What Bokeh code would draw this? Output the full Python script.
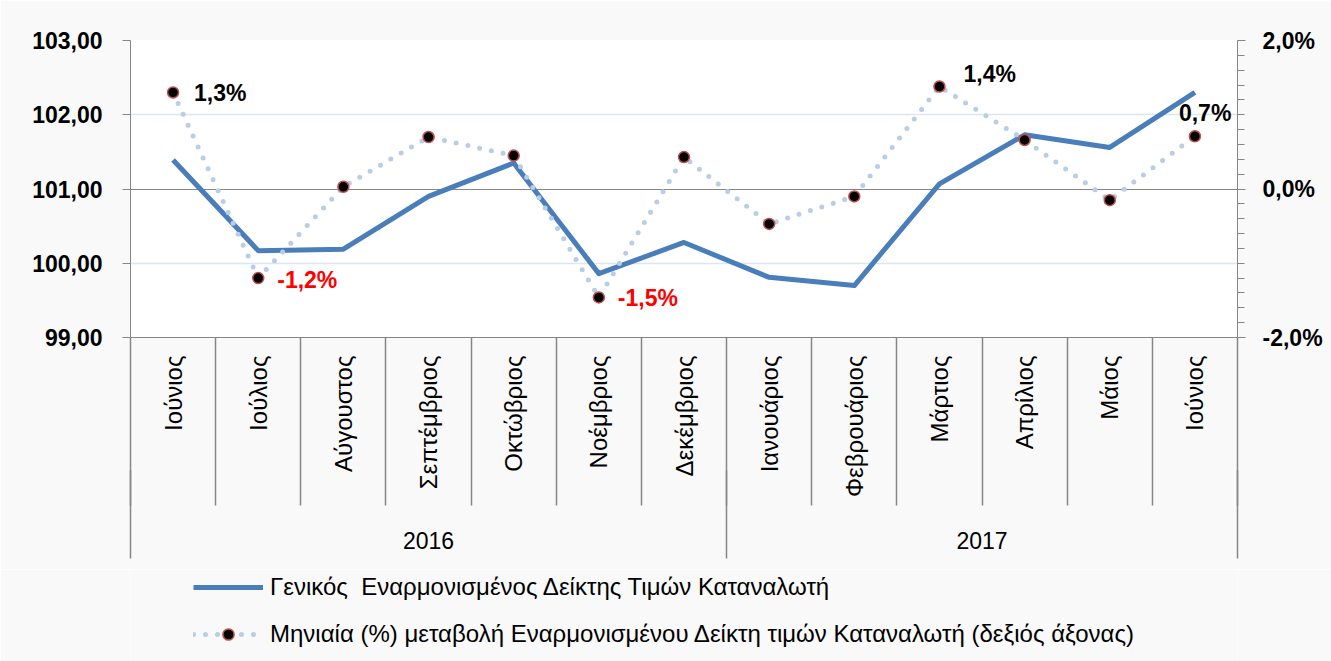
import math
from bokeh.plotting import figure
from bokeh.layouts import column
from bokeh.models import (Range1d, LinearAxis, FixedTicker, Grid, Legend, LegendItem,
                          ColumnDataSource)
from bokeh.core.properties import value
from bokeh.embed import file_html
from bokeh.resources import INLINE

# ---------------- data ----------------
months = ["Ιούνιος", "Ιούλιος", "Αύγουστος", "Σεπτέμβριος", "Οκτώβριος", "Νοέμβριος",
          "Δεκέμβριος", "Ιανουάριος", "Φεβρουάριος", "Μάρτιος", "Απρίλιος", "Μάιος", "Ιούνιος"]
years = ["2016", "2017"]
months_per_year = [7, 6]
hicp = [101.39, 100.17, 100.19, 100.90, 101.35, 99.86, 100.28, 99.81, 99.70, 101.07,
        101.73, 101.56, 102.30]
change_pct = [1.30, -1.20, 0.03, 0.70, 0.45, -1.46, 0.43, -0.47, -0.10, 1.38, 0.66, -0.15, 0.71]
labelled = [0, 1, 5, 9, 12]
left_ticks = [99, 100, 101, 102, 103]
right_ticks = [-2, 0, 2]
series_names = ["Γενικός  Εναρμονισμένος Δείκτης Τιμών Καταναλωτή",
                "Μηνιαία (%) μεταβολή Εναρμονισμένου Δείκτη τιμών Καταναλωτή (δεξιός άξονας)"]

# ---------------- styles ----------------
FONT = "Liberation Sans"
GRAY = "#868686"
BLUE = "#4a7ebb"
LIGHT = "#b9cde5"
BG = "#f9f9f9"
W = 1331

def fmt_idx(v):
    return f"{v:.2f}".replace(".", ",")

def fmt_pct(v):
    return f"{v:.1f}".replace(".", ",") + "%"

n = len(months)
xs = list(range(n))

p = figure(frame_width=1107, frame_height=297,
           min_border_left=130, min_border_right=94, min_border_top=40, min_border_bottom=232,
           x_range=Range1d(-0.5, n - 0.5), y_range=Range1d(left_ticks[0], left_ticks[-1]),
           output_backend="svg", toolbar_location=None, x_axis_location=None,
           y_axis_location=None)
p.extra_y_ranges = {"pct": Range1d(right_ticks[0], right_ticks[-1])}
p.background_fill_color = "white"
p.border_fill_color = BG
p.outline_line_color = None
p.xgrid.visible = False
p.ygrid.visible = False

# grid lines
p.add_layout(Grid(dimension=1, ticker=FixedTicker(ticks=[t for t in left_ticks if t % 2 == 0]),
                  grid_line_color="#dce6f2", grid_line_width=1.5))
p.add_layout(Grid(dimension=1, ticker=FixedTicker(ticks=[t for t in left_ticks[1:] if t % 2 == 1]),
                  grid_line_color=GRAY, grid_line_width=1))

# left axis
ly = LinearAxis(ticker=FixedTicker(ticks=left_ticks),
                major_label_overrides={t: fmt_idx(t) for t in left_ticks})
ly.axis_line_color = GRAY
ly.major_tick_line_color = GRAY
ly.major_tick_out = 8
ly.major_tick_in = 0
ly.minor_tick_line_color = None
ly.major_label_standoff = 20
ly.major_label_text_font = FONT
ly.major_label_text_font_style = "bold"
ly.major_label_text_font_size = "23px"
ly.major_label_text_color = "black"
p.add_layout(ly, "left")

# right axis
minor_r = [right_ticks[0] + 0.2 * i for i in range(21)]
ry = LinearAxis(y_range_name="pct", ticker=FixedTicker(ticks=right_ticks, minor_ticks=minor_r),
                major_label_overrides={t: fmt_pct(t) for t in right_ticks})
ry.axis_line_color = GRAY
ry.major_tick_line_color = GRAY
ry.minor_tick_line_color = GRAY
ry.major_tick_out = 8
ry.major_tick_in = 0
ry.minor_tick_out = 7
ry.minor_tick_in = 0
ry.major_label_standoff = 17
ry.major_label_text_font = FONT
ry.major_label_text_font_style = "bold"
ry.major_label_text_font_size = "23px"
ry.major_label_text_color = "black"
p.add_layout(ry, "right")

# month axis (labels + month dividers)
mx = LinearAxis(ticker=FixedTicker(ticks=xs, minor_ticks=[i - 0.5 for i in range(n + 1)]),
                major_label_overrides={i: m for i, m in enumerate(months)})
mx.axis_line_color = GRAY
mx.major_tick_line_color = None
mx.major_tick_out = 0
mx.major_tick_in = 0
mx.minor_tick_line_color = GRAY
mx.minor_tick_line_width = 1.5
mx.minor_tick_out = 168
mx.minor_tick_in = 0
mx.major_label_orientation = math.pi / 2
mx.major_label_standoff = -150
mx.major_label_text_font = FONT
mx.major_label_text_font_size = "24px"
mx.major_label_text_color = "black"
p.add_layout(mx, "below")

# year axis (labels + year dividers)
bounds = [-0.5]
for k in months_per_year:
    bounds.append(bounds[-1] + k)
centers = [(bounds[i] + bounds[i + 1]) / 2 for i in range(len(years))]
yx = LinearAxis(ticker=FixedTicker(ticks=centers, minor_ticks=bounds),
                major_label_overrides={c: y for c, y in zip(centers, years)})
yx.axis_line_color = None
yx.major_tick_line_color = None
yx.major_tick_out = 0
yx.major_tick_in = 0
yx.minor_tick_line_color = GRAY
yx.minor_tick_line_width = 1.5
yx.minor_tick_in = 30
yx.minor_tick_out = 58
yx.major_label_standoff = -27
yx.major_label_text_font = FONT
yx.major_label_text_font_size = "23px"
yx.major_label_text_color = "black"
p.add_layout(yx, "below")

# series
src = ColumnDataSource(dict(x=xs, hicp=hicp, chg=change_pct))
line_style = dict(line_color=BLUE, line_width=5, line_join="round")
dot_style = dict(line_color=LIGHT, line_width=5, line_dash="0 12", line_cap="round")
mark_style = dict(size=11, fill_color="black", line_color="#c0504d", line_width=1.5)
p.line("x", "hicp", source=src, **line_style)
p.line("x", "chg", source=src, y_range_name="pct", **dot_style)
p.scatter("x", "chg", source=src, y_range_name="pct", **mark_style)

# data labels
lab_off_x = [21, 19, 19, 24, -16]
lab_off_y = [1, 2, 1, -13, -23]
lab = ColumnDataSource(dict(
    x=[xs[i] for i in labelled],
    y=[change_pct[i] for i in labelled],
    t=[fmt_pct(change_pct[i]) for i in labelled],
    c=["black" if change_pct[i] >= 0 else "#ff0000" for i in labelled],
    ox=lab_off_x, oy=lab_off_y))
p.text("x", "y", text="t", source=lab, y_range_name="pct", x_offset="ox", y_offset="oy",
       text_color="c", text_font=value(FONT), text_font_style="bold",
       text_font_size="23px", text_baseline="middle", text_align="left")

# legend strip (second figure; legend proxies share the series styles and sit off-screen)
top_h = 40 + 297 + 232
p2 = figure(width=W, height=661 - top_h, min_border=0, x_range=Range1d(0, 1),
            y_range=Range1d(0, 1), output_backend="svg", toolbar_location=None,
            x_axis_location=None, y_axis_location=None)
p2.background_fill_color = BG
p2.border_fill_color = BG
p2.outline_line_color = None
p2.xgrid.visible = False
p2.ygrid.visible = False
proxy = ColumnDataSource(dict(x=[-10], y=[-10]))
l1 = p2.line("x", "y", source=proxy, **line_style)
l2 = p2.line("x", "y", source=proxy, **dot_style)
l3 = p2.scatter("x", "y", source=proxy, **mark_style)
legend = Legend(items=[LegendItem(label=series_names[0], renderers=[l1]),
                       LegendItem(label=series_names[1], renderers=[l2, l3])],
                location=(63, 13), orientation="vertical",
                glyph_width=70, glyph_height=28, label_height=28, label_standoff=7,
                spacing=19, padding=0, margin=0,
                background_fill_alpha=0, border_line_color=None,
                label_text_font=FONT, label_text_font_size="24px", label_text_color="black")
p2.add_layout(legend, "center")

open("out.html", "w").write(file_html(column(p, p2, spacing=0), INLINE))
